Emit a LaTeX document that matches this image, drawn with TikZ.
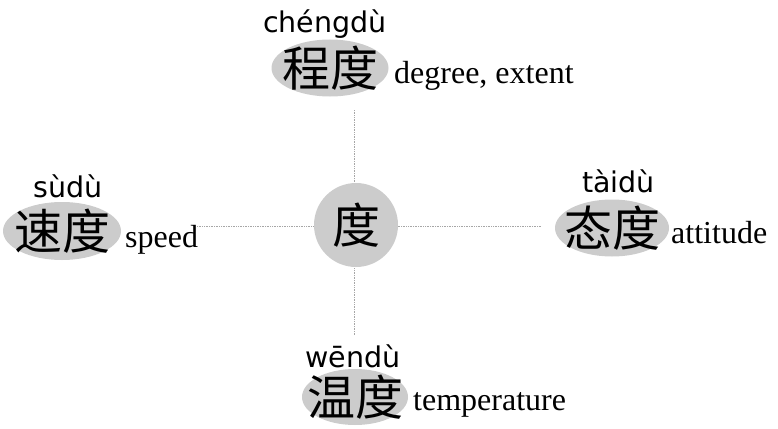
\documentclass[tikz,border=0pt]{standalone}
\usepackage{fontspec}
\setmainfont{Liberation Serif}
\newfontfamily\cjk{Noto Sans CJK SC}
\newfontfamily\py{DejaVu Sans}
\usetikzlibrary{shapes.geometric}
\tikzset{
  blob/.style={ellipse, fill=black!20, inner sep=0pt},
  hanzi/.style={inner sep=0pt, font=\cjk\fontsize{48}{48}\selectfont},
  hub/.style={circle, fill=black!20, minimum size=84pt, inner sep=0pt},
  pinyin/.style={anchor=base west, inner sep=0pt, font=\py\fontsize{28.5}{28.5}\selectfont},
  gloss/.style={anchor=base west, inner sep=0pt, font=\fontsize{32}{32}\selectfont},
  link/.style={black!35, line width=0.7pt, densely dotted}
}
\begin{document}
\begin{tikzpicture}[x=1pt,y=-1pt]
\useasboundingbox (0,0) rectangle (778,428);
% connectors
\coordinate (lE) at (197,226);
\coordinate (rE) at (542,226);
\coordinate (tE) at (354,110);
\coordinate (bE) at (354,336);
\draw[link] (lE) -- (rE);
\draw[link] (tE) -- (bE);
% hub
\node[hub] (du) at (356,225) {};
\node[hanzi] (dut) at (du.center) {度};
% top
\node[blob, minimum width=117pt, minimum height=57pt] (cheng) at (330,68) {};
\node[hanzi] (chengt) at (cheng.center) {程度};
\node[pinyin] (chengpy) at (263,33) {chéngdù};
\node[gloss] (chenggl) at (394,83) {degree, extent};
% left
\node[blob, minimum width=118pt, minimum height=58pt] (su) at (62,231) {};
\node[hanzi] (sut) at (su.center) {速度};
\node[pinyin] (supy) at (33,197) {sùdù};
\node[gloss] (sugl) at (125,247) {speed};
% right
\node[blob, minimum width=114pt, minimum height=57pt] (tai) at (612,228) {};
\node[hanzi] (tait) at (tai.center) {态度};
\node[pinyin] (taipy) at (582,192) {tàidù};
\node[gloss] (taigl) at (671,243) {attitude};
% bottom
\node[blob, minimum width=106pt, minimum height=56pt] (wen) at (355,397) {};
\node[hanzi] (went) at (wen.center) {温度};
\node[pinyin] (wenpy) at (305,367) {wēndù};
\node[gloss] (wengl) at (413,410) {temperature};
\end{tikzpicture}
\end{document}
